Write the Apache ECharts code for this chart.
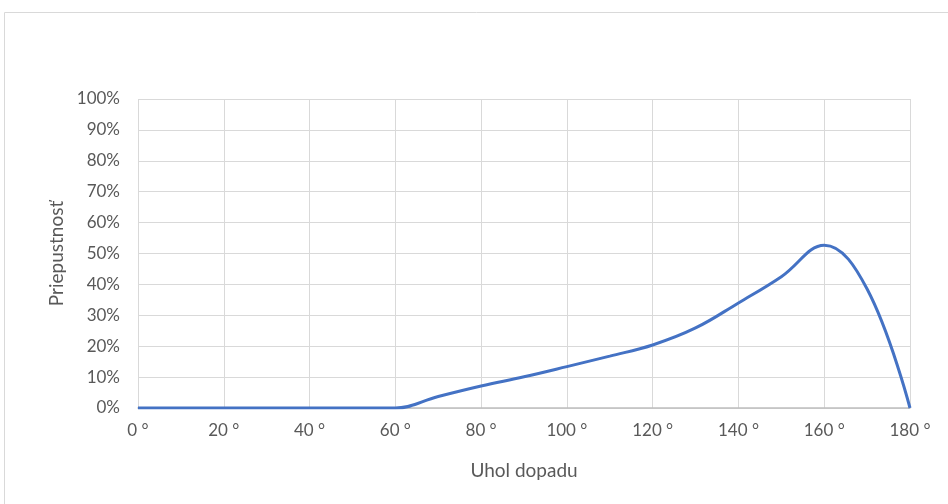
<!DOCTYPE html>
<html>
<head>
<meta charset="utf-8">
<script src="https://cdn.jsdelivr.net/npm/echarts@6/dist/echarts.min.js"></script>
<style>
  html, body { margin: 0; padding: 0; background: #fff; }
  #chart { width: 948px; height: 504px; }
</style>
</head>
<body>
<div id="chart"></div>
<script>
// uhol dopadu (stupne) a priepustnosť (%)
var angles = [0, 10, 20, 30, 40, 50, 60, 70, 80, 90, 100, 110, 120, 130, 140, 150, 160, 170, 180];
var transmission = [0, 0, 0, 0, 0, 0, 0, 3.7, 7.1, 10.1, 13.4, 16.8, 20.4, 25.9, 34, 42.5, 52.7, 38.5, 0];

var chart = echarts.init(document.getElementById('chart'));
var textColor = '#595959';
var font = 'Lato, "Open Sans", sans-serif';

chart.setOption({
  animation: false,
  graphic: [{
    type: 'rect',
    shape: { x: 4.5, y: 12.5, width: 960, height: 520 },
    style: { fill: 'none', stroke: '#d9d9d9', lineWidth: 1 }
  }],
  grid: { left: 138, right: 38, top: 99, bottom: 96 },
  xAxis: {
    type: 'value',
    min: 0, max: 180, interval: 20,
    name: 'Uhol dopadu',
    nameLocation: 'middle',
    nameGap: 53,
    nameTextStyle: { color: textColor, fontSize: 19, fontFamily: font },
    axisLine: { show: true, lineStyle: { color: '#bfbfbf', width: 1.5 } },
    axisTick: { show: false },
    axisLabel: { color: textColor, fontSize: 17, fontFamily: font, margin: 14, formatter: '{value} °' },
    splitLine: { show: true, lineStyle: { color: '#d9d9d9' } }
  },
  yAxis: {
    type: 'value',
    min: 0, max: 100, interval: 10,
    name: 'Priepustnosť',
    nameLocation: 'middle',
    nameGap: 62,
    nameTextStyle: { color: textColor, fontSize: 19, fontFamily: font },
    axisLine: { show: false },
    axisTick: { show: false },
    axisLabel: { color: textColor, fontSize: 17, fontFamily: font, margin: 18, formatter: '{value}%' },
    splitLine: { show: true, lineStyle: { color: '#d9d9d9' } }
  },
  series: [{
    type: 'line',
    data: angles.map(function (a, i) { return [a, transmission[i]]; }),
    smooth: 0.4,
    showSymbol: false,
    lineStyle: { color: '#4472c4', width: 3 },
    itemStyle: { color: '#4472c4' }
  }]
});
</script>
</body>
</html>
